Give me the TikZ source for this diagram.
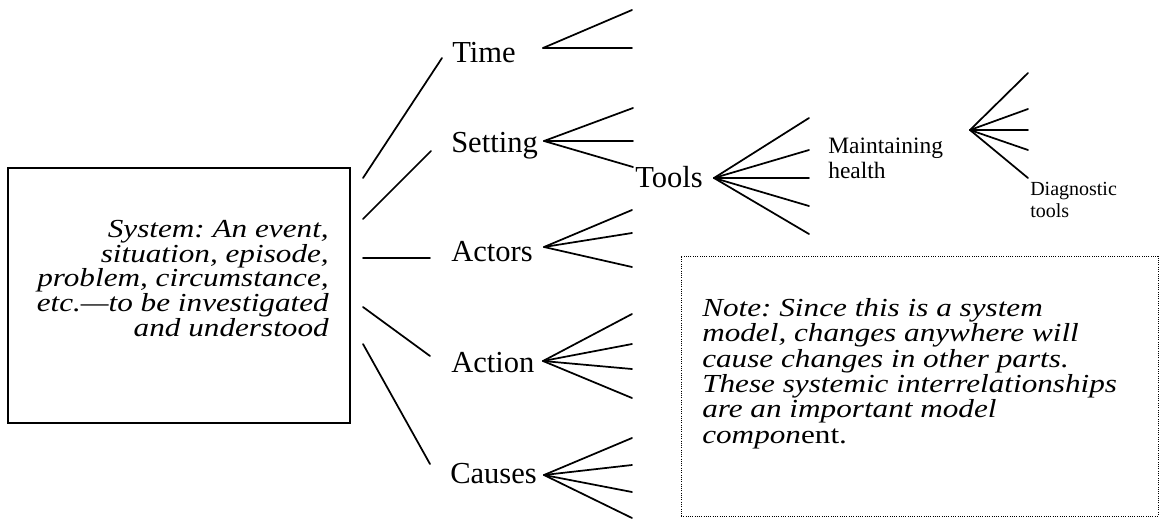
\documentclass[tikz,border=0pt]{standalone}
\usepackage{fontspec}
\setmainfont{Liberation Serif}
\newfontfamily\wideserif[FakeStretch=1.2]{Liberation Serif}
\usetikzlibrary{positioning}
\frenchspacing

\tikzset{
  branch/.style={line width=1.3pt, line cap=round},
  topic/.style={inner sep=0pt, anchor=base west, font=\fontsize{22.9}{26}\selectfont},
  subtopic/.style={inner sep=0pt, anchor=base west, align=left, font=\fontsize{17.6}{18.75}\selectfont},
  leaftopic/.style={inner sep=0pt, anchor=base west, align=left, font=\fontsize{15}{16.5}\selectfont},
  sysbox/.style={draw, line width=1.2pt, minimum width=256.5pt, minimum height=191.25pt, inner sep=0pt},
  notebox/.style={draw, densely dotted, line width=0.7pt, minimum width=357.75pt, minimum height=195pt, inner sep=0pt},
  slanted/.style={inner sep=0pt, font={\wideserif\fontsize{19.5}{18.4}\selectfont\itshape}},
}

\begin{document}
\begin{tikzpicture}[x=0.75pt, y=-0.75pt]
  \useasboundingbox (0,0) rectangle (1165,519);

  % the system
  \node[sysbox] (system) at (179,295.5) {};
  \node[slanted, align=right, anchor=base east] (systext) at (329,336)
    {System: An event,\\situation, episode,\\problem, circumstance,\\etc.—to be investigated\\and understood};

  % first level
  \node[topic] (time) at (452,62) {Time};
  \node[topic] (setting) at (451,152) {Setting};
  \node[topic] (actors) at (451,261) {Actors};
  \node[topic] (action) at (451,372) {Action};
  \node[topic] (causes) at (450,483) {Causes};

  \foreach \name/\sx/\sy/\ex/\ey in {time/363/178/442/58, setting/363/219/431/151,
      actors/363/258/430/258, action/363/307/430/356, causes/363/344/430/464} {
    \coordinate (\name-in) at (\sx,\sy);
    \coordinate (\name-to) at (\ex,\ey);
    \draw[branch] (\name-in) -- (\name-to);
  }

  % deeper levels
  \node[topic] (tools) at (635,187) {Tools};
  \node[subtopic] (health) at (828,178) {Maintaining\\health};
  \node[leaftopic] (diag) at (1030,217) {Diagnostic\\tools};

  % fans
  \foreach \name/\ax/\ay/\ex/\ends in {time/543/48/632/{10,48},
      setting/544/141/633/{108,141,167}, actors/544/247/632/{210,233,267},
      action/543/361/632/{314,344,369,398}, causes/544/475/632/{438,465,492,518},
      tools/714/178/809/{118,150,178,206,234}, health/970/130/1028/{73,109,130,150,178}} {
    \coordinate (\name-apex) at (\ax,\ay);
    \foreach \y [count=\i] in \ends {
      \coordinate (\name-\i) at (\ex,\y);
      \draw[branch] (\name-apex) -- (\name-\i);
    }
  }

  % note
  \node[notebox] (note) at (919.5,386) {};
  \node[slanted, align=left, anchor=base west, font={\wideserif\fontsize{19.5}{19}\selectfont\itshape}] (notetext) at (702,443)
    {Note: Since this is a system\\model, changes anywhere will\\cause changes in other parts.\\These systemic interrelationships\\are an important model\\compon{\upshape ent.}};
\end{tikzpicture}
\end{document}
